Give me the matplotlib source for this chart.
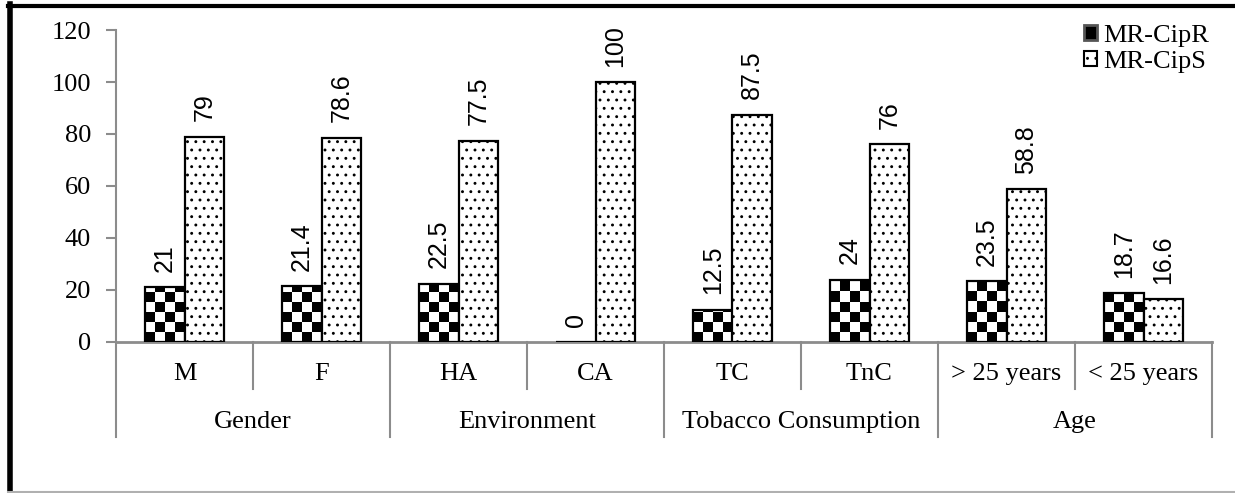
import numpy as np
import matplotlib
matplotlib.use("Agg")
from matplotlib import pyplot as plt
from matplotlib.lines import Line2D
from matplotlib.patches import Patch

# data
categories = ["M", "F", "HA", "CA", "TC", "TnC", "> 25 years", "< 25 years"]
groups = ["Gender", "Environment", "Tobacco Consumption", "Age"]
cipR = [21, 21.4, 22.5, 0, 12.5, 24, 23.5, 18.7]
cipS = [79, 78.6, 77.5, 100, 87.5, 76, 58.8, 16.6]
cipR_labels = ["21", "21.4", "22.5", "0", "12.5", "24", "23.5", "18.7"]
cipS_labels = ["79", "78.6", "77.5", "100", "87.5", "76", "58.8", "16.6"]

plt.rcParams['hatch.linewidth'] = 0.9
plt.rcParams['hatch.color'] = "#333333"
serif = "Liberation Serif"
sans = "Liberation Sans"
grey = "#8c8c8c"
fs = 19

W, H = 1235, 493
fig = plt.figure(figsize=(W / 100, H / 100), dpi=100)
ax = fig.add_axes([116 / W, (H - 342) / H, (1212 - 116) / W, 312 / H])

x = np.arange(len(categories))
bw = 0.29
barsR = ax.bar(x - bw / 2, cipR, bw, facecolor="none", edgecolor="black", linewidth=1.6, zorder=3)
barsS = ax.bar(x + bw / 2, cipS, bw, facecolor="white", edgecolor="black", linewidth=1.6,
               hatch="..", zorder=3)

# checkerboard fill for the CipR bars
cell_y = 10 / 2.6
for b in barsR:
    h = b.get_height()
    if h <= 0:
        continue
    nrows = int(np.ceil(h / cell_y))
    board = np.indices((nrows, 4)).sum(axis=0) % 2
    im = ax.imshow(board[::-1], cmap="gray", interpolation="nearest", aspect="auto",
                   extent=[b.get_x(), b.get_x() + bw, 0, nrows * cell_y], zorder=2)
    im.set_clip_path(b)

for b, lab in zip(barsR, cipR_labels):
    ax.annotate(lab, (b.get_x() + bw / 2, b.get_height()), xytext=(0, 11), textcoords="offset points",
                rotation=90, ha="center", va="bottom", fontsize=18, family=sans)
for b, lab in zip(barsS, cipS_labels):
    ax.annotate(lab, (b.get_x() + bw / 2, b.get_height()), xytext=(0, 11), textcoords="offset points",
                rotation=90, ha="center", va="bottom", fontsize=18, family=sans)

ax.set_xlim(-0.5, len(categories) - 0.5)
ax.set_ylim(0, 120)
ax.set_yticks(range(0, 121, 20))
ax.tick_params(axis="y", length=7, width=1.5, color=grey, pad=11, labelsize=fs)
for t in ax.get_yticklabels():
    t.set_family(serif)
ax.set_xticks([])
for s in ["top", "right"]:
    ax.spines[s].set_visible(False)
ax.spines["left"].set_color(grey)
ax.spines["left"].set_linewidth(1.5)
ax.spines["bottom"].set_color(grey)
ax.spines["bottom"].set_linewidth(2)

# two-level category axis
tr = ax.get_xaxis_transform()
row1 = -47 / 312
row2 = -95 / 312
for i, c in enumerate(categories):
    ax.text(i, -32 / 312, c, transform=tr, ha="center", va="center", fontsize=fs, family=serif)
for i in range(len(categories) + 1):
    bottom = row2 if i % 2 == 0 else row1
    ax.add_line(Line2D([i - 0.5, i - 0.5], [0, bottom], transform=tr, color=grey, lw=1.5,
                       clip_on=False))
for g, name in enumerate(groups):
    ax.text(2 * g + 0.5, -80 / 312, name, transform=tr, ha="center", va="center", fontsize=fs,
            family=serif)

handles = [Patch(facecolor="black", edgecolor="#555555", linewidth=2),
           Patch(facecolor="white", edgecolor="black", hatch="..", linewidth=1.5)]
fig.legend(handles, ["MR-CipR", "MR-CipS"], loc="upper right", bbox_to_anchor=(1220 / W, 1 - 14 / H),
           frameon=False, prop={"family": serif, "size": fs}, handlelength=0.5, handleheight=0.5,
           handletextpad=0.25, labelspacing=0.15, borderaxespad=0)

# figure frame: heavy left/top, thin grey bottom
fig.add_artist(Line2D([9.5 / W, 9.5 / W], [0, 1 - 4 / H], transform=fig.transFigure, color="black", lw=4))
fig.add_artist(Line2D([8 / W, 1], [1 - 5.5 / H, 1 - 5.5 / H], transform=fig.transFigure, color="black", lw=3))
fig.add_artist(Line2D([8 / W, 1], [1.5 / H, 1.5 / H], transform=fig.transFigure, color="#b0b0b0", lw=1.5))

fig.savefig("out.png", dpi=100)
